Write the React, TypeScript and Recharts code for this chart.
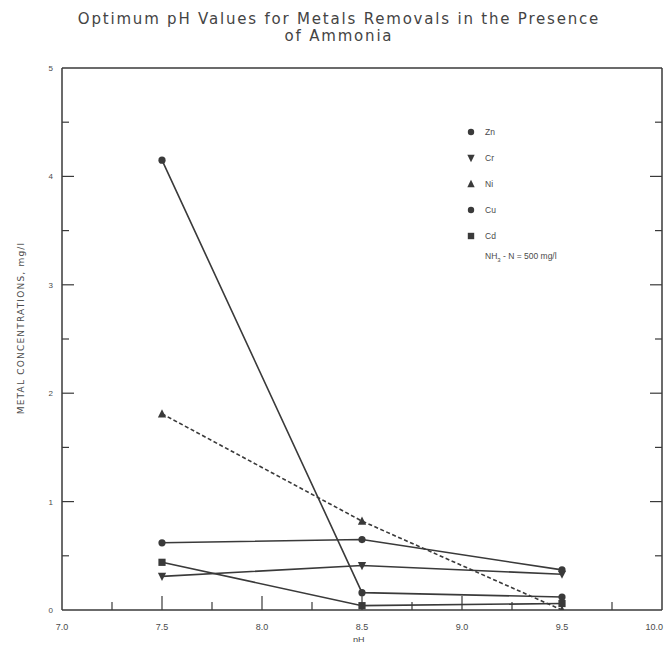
import { Legend, Line, LineChart, XAxis, YAxis } from 'recharts';

// pH values where samples were taken
const phValues = [7.5, 8.5, 9.5];

// metal concentrations, mg/l
const znValues = [4.15, 0.16, 0.12];
const crValues = [0.31, 0.41, 0.33];
const niValues = [1.81, 0.82, 0.0];
const cuValues = [0.62, 0.65, 0.37];
const cdValues = [0.44, 0.04, 0.06];

const xTicks = [7, 7.25, 7.5, 7.75, 8, 8.25, 8.5, 8.75, 9, 9.25, 9.5, 9.75, 10];
const yTicks = [0, 0.5, 1, 1.5, 2, 2.5, 3, 3.5, 4, 4.5, 5];

type Shape = 'circle' | 'down' | 'up' | 'square';

type SeriesConfig = {
  key: string;
  label: string;
  shape: Shape;
  dash?: string;
};

const series: SeriesConfig[] = [
  { key: 'zn', label: 'Zn', shape: 'circle' },
  { key: 'cr', label: 'Cr', shape: 'down' },
  { key: 'ni', label: 'Ni', shape: 'up', dash: '4 2.5' },
  { key: 'cu', label: 'Cu', shape: 'circle' },
  { key: 'cd', label: 'Cd', shape: 'square' },
];

const data = phValues.map((ph, i) => ({
  ph,
  zn: znValues[i],
  cr: crValues[i],
  ni: niValues[i],
  cu: cuValues[i],
  cd: cdValues[i],
}));

const INK = '#3a3a3a';
const TEXT = '#4a4a4a';
const FONT = '"Liberation Sans", Arial, sans-serif';

function Marker({ shape, x, y, s = 3.6 }: { shape: Shape; x: number; y: number; s?: number }) {
  if (shape === 'circle') return <circle cx={x} cy={y} r={s} fill={INK} />;
  if (shape === 'square') return <rect x={x - s} y={y - s} width={s * 2} height={s * 2} fill={INK} />;
  if (shape === 'up')
    return <polygon points={`${x},${y - s - 1} ${x - s - 0.5},${y + s} ${x + s + 0.5},${y + s}`} fill={INK} />;
  return <polygon points={`${x},${y + s + 1} ${x - s - 0.5},${y - s} ${x + s + 0.5},${y - s}`} fill={INK} />;
}

const makeDot = (shape: Shape) => (props: any) => {
  const { cx, cy, index } = props;
  if (cx == null || cy == null) return <g key={index} />;
  return <Marker key={index} shape={shape} x={cx} y={cy} />;
};

const BottomTick = ({ x, y, payload }: any) => {
  const v = payload.value;
  const major = v % 0.5 === 0;
  const len = major ? 14 : 8;
  const showLine = v !== 7 && v !== 10;
  return (
    <g>
      {showLine && <line x1={x} x2={x} y1={y} y2={y - len} stroke={INK} strokeWidth={1.2} />}
      {major && (
        <text
          x={v === 10 ? x + 1 : x}
          y={y + 20}
          textAnchor={v === 10 ? 'end' : 'middle'}
          fontSize={9}
          fill={TEXT}
          fontFamily={FONT}
        >
          {v.toFixed(1)}
        </text>
      )}
    </g>
  );
};

const TopTick = ({ x, y, payload }: any) => {
  const v = payload.value;
  if (v === 7 || v === 10) return <g />;
  const len = v % 0.5 === 0 ? 14 : 8;
  return <line x1={x} x2={x} y1={y} y2={y + len} stroke={INK} strokeWidth={1.2} />;
};

const LeftTick = ({ x, y, payload }: any) => {
  const v = payload.value;
  const major = Number.isInteger(v);
  const len = major ? 12 : 7;
  return (
    <g>
      {v !== 0 && v !== 5 && <line x1={x} x2={x + len} y1={y} y2={y} stroke={INK} strokeWidth={1.2} />}
      {major && (
        <text x={x - 9} y={y + 3} textAnchor="end" fontSize={8} fill={TEXT} fontFamily={FONT}>
          {v}
        </text>
      )}
    </g>
  );
};

const RightTick = ({ x, y, payload }: any) => {
  const v = payload.value;
  if (v === 0 || v === 5) return <g />;
  const len = Number.isInteger(v) ? 12 : 7;
  return <line x1={x} x2={x - len} y1={y} y2={y} stroke={INK} strokeWidth={1.2} />;
};

const LegendBox = () => (
  <div style={{ fontFamily: FONT, fontSize: 8.5, color: TEXT }}>
    {series.map((s) => (
      <div key={s.key} style={{ display: 'flex', alignItems: 'center', height: 26 }}>
        <svg width={12} height={12} style={{ marginRight: 8 }}>
          <Marker shape={s.shape} x={6} y={6} s={3.2} />
        </svg>
        <span style={{ color: TEXT }}>{s.label}</span>
      </div>
    ))}
    <div style={{ marginLeft: 20, marginTop: 2, color: TEXT }}>
      NH<sub style={{ fontSize: 6 }}>3</sub> - N = 500 mg/l
    </div>
  </div>
);

export default function App() {
  return (
    <div style={{ position: 'relative', width: 656, height: 634, background: '#fff' }}>
      <div
        style={{
          position: 'absolute',
          top: 3,
          left: 0,
          width: 662,
          textAlign: 'center',
          fontFamily: '"DejaVu Sans", sans-serif',
          fontSize: 15,
          letterSpacing: 1.8,
          lineHeight: '17px',
          color: '#444',
        }}
      >
        Optimum pH Values for Metals Removals in the Presence
        <br />
        of Ammonia
      </div>
      <div
        style={{
          position: 'absolute',
          left: 13,
          top: 320,
          transform: 'translate(-50%, -50%) rotate(-90deg)',
          whiteSpace: 'nowrap',
          fontFamily: '"DejaVu Sans", sans-serif',
          fontSize: 9,
          letterSpacing: 1.2,
          color: TEXT,
        }}
      >
        METAL CONCENTRATIONS, mg/l
      </div>
      <div
        style={{
          position: 'absolute',
          left: 345,
          top: 627,
          fontFamily: FONT,
          fontSize: 9,
          color: TEXT,
        }}
      >
        pH
      </div>
      <LineChart width={656} height={634} data={data} margin={{ top: 59, right: 1, bottom: 31, left: 53 }}>
        <XAxis
          dataKey="ph"
          type="number"
          domain={[7, 10]}
          ticks={xTicks}
          interval={0}
          height={1}
          tickSize={0}
          tickMargin={0}
          tickLine={false}
          axisLine={{ stroke: INK, strokeWidth: 1.5 }}
          tick={<BottomTick />}
          allowDataOverflow
        />
        <XAxis
          xAxisId="top"
          orientation="top"
          type="number"
          domain={[7, 10]}
          ticks={xTicks}
          interval={0}
          height={1}
          tickSize={0}
          tickMargin={0}
          tickLine={false}
          axisLine={{ stroke: INK, strokeWidth: 1.5 }}
          tick={<TopTick />}
          allowDataOverflow
        />
        <YAxis
          type="number"
          domain={[0, 5]}
          ticks={yTicks}
          interval={0}
          width={1}
          tickSize={0}
          tickMargin={0}
          tickLine={false}
          axisLine={{ stroke: INK, strokeWidth: 1.5 }}
          tick={<LeftTick />}
          allowDataOverflow
        />
        <YAxis
          yAxisId="right"
          orientation="right"
          type="number"
          domain={[0, 5]}
          ticks={yTicks}
          interval={0}
          width={1}
          tickSize={0}
          tickMargin={0}
          tickLine={false}
          axisLine={{ stroke: INK, strokeWidth: 1.5 }}
          tick={<RightTick />}
          allowDataOverflow
        />
        <Legend
          layout="vertical"
          align="center"
          verticalAlign="middle"
          content={<LegendBox />}
          wrapperStyle={{ position: 'absolute', top: 111, left: 457, width: 140 }}
        />
        {series.map((s) => (
          <Line
            key={s.key}
            type="linear"
            dataKey={s.key}
            name={s.label}
            stroke={INK}
            strokeWidth={1.6}
            strokeDasharray={s.dash}
            dot={makeDot(s.shape)}
            activeDot={false}
            isAnimationActive={false}
          />
        ))}
      </LineChart>
    </div>
  );
}
